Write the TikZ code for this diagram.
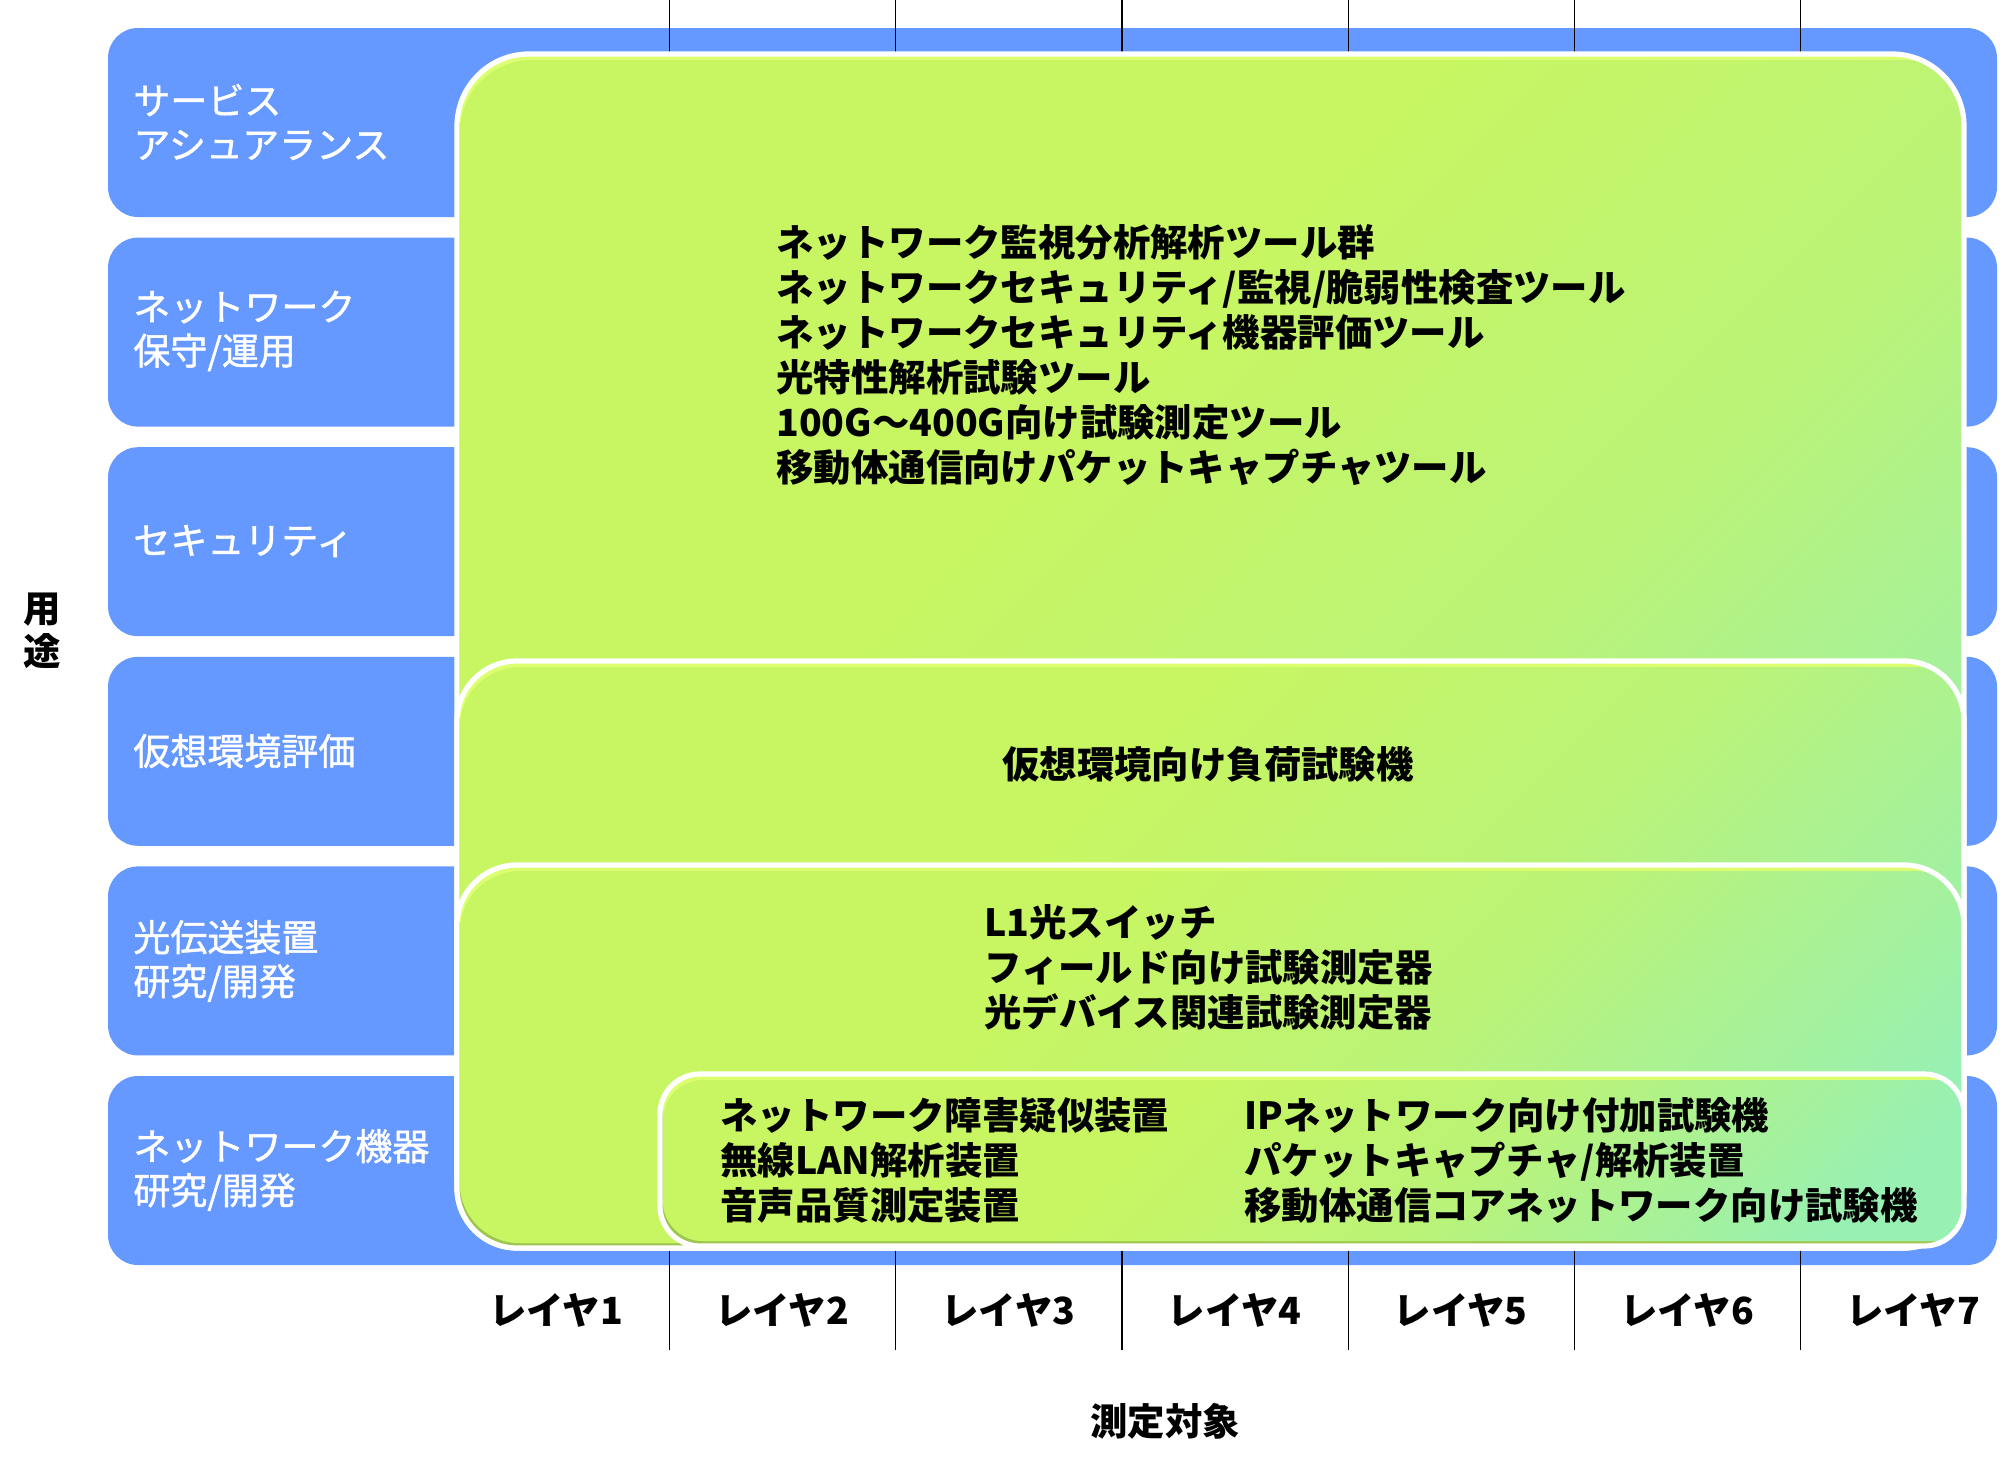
\documentclass[tikz,border=0pt]{standalone}
\usepackage{fontspec}
\newfontfamily\jp{Noto Sans CJK JP}
\newfontfamily\jpw{Noto Sans CJK JP}[FakeBold=1.2]
\definecolor{barblue}{RGB}{102,153,255}
\definecolor{gA}{RGB}{200,246,98}
\definecolor{gB}{RGB}{186,243,120}
\definecolor{gC}{RGB}{152,240,178}
\definecolor{gDark}{RGB}{158,198,78}
\definecolor{gLight}{RGB}{220,255,112}
\pgfdeclareverticalshading{greensh}{100bp}{color(0bp)=(gC); color(22bp)=(gC); color(42bp)=(gB); color(60bp)=(gA); color(100bp)=(gA)}
\newcommand\greenbox[5]{%
  \begin{scope}
    \clip[rounded corners=#5] (#1,#2) rectangle (#3,#4);
    \fill[gDark] (#1-5,#2-5) rectangle (#3+5,#4+5);
    \fill[gLight, rounded corners=#5] (#1+3,#2-12) rectangle (#3+12,#4-5);
    \shade[shading=greensh, shading angle=45, rounded corners=#5] (#1+3,#2+6) rectangle (#3+12,#4-5);
  \end{scope}
  \draw[white, line width=2.6pt, rounded corners=#5] (#1,#2) rectangle (#3,#4);
}
\begin{document}
\begin{tikzpicture}[x=0.5pt,y=-0.5pt,
  bar/.style={fill=barblue, rounded corners=15pt},
  lbl/.style={text=white, anchor=west, align=left, inner sep=0pt,
    font=\jpw\fontsize{18.5pt}{22pt}\selectfont},
  txt/.style={text=black, inner sep=0pt, align=left,
    font=\jp\bfseries\fontsize{18.7pt}{22.5pt}\selectfont},
  vline/.style={line width=0.6pt, black},
]
\useasboundingbox[fill=white] (0,0) rectangle (2004,1467);

% blue rows
\foreach \i in {0,...,5}{
  \fill[bar] (108,{28+209.6*\i}) rectangle (1997,{217+209.6*\i});
}

% layer grid lines
\foreach \i in {1,...,6}{
  \coordinate (top\i) at ({443.4+226.2*\i},0);
  \coordinate (bot\i) at ({443.4+226.2*\i},1350);
  \draw[vline] (top\i) -- (bot\i);
}

% green boxes
\greenbox{457}{54}{1964}{1248}{36pt}
\greenbox{457}{661}{1964}{1248}{30pt}
\greenbox{457}{865}{1964}{1248}{30pt}
\greenbox{660}{1074}{1964}{1246}{20pt}

% box texts
\node[txt, anchor=west] (t1) at (776,355.5) {ネットワーク監視分析解析ツール群\\ネットワークセキュリティ/監視/脆弱性検査ツール\\ネットワークセキュリティ機器評価ツール\\光特性解析試験ツール\\100G～400G向け試験測定ツール\\移動体通信向けパケットキャプチャツール};
\node[txt] (t2) at (1208,764) {仮想環境向け負荷試験機};
\node[txt, anchor=west] (t3) at (984,967) {L1光スイッチ\\フィールド向け試験測定器\\光デバイス関連試験測定器};
\node[txt, anchor=west] (t4a) at (720,1160) {ネットワーク障害疑似装置\\無線LAN解析装置\\音声品質測定装置};
\node[txt, anchor=west] (t4b) at (1244,1160) {IPネットワーク向け付加試験機\\パケットキャプチャ/解析装置\\移動体通信コアネットワーク向け試験機};

% row labels
\node[lbl] (l1) at (133,122) {サービス\\アシュアランス};
\node[lbl] (l2) at (133,331) {ネットワーク\\保守/運用};
\node[lbl] (l3) at (133,541) {セキュリティ};
\node[lbl] (l4) at (133,751) {仮想環境評価};
\node[lbl] (l5) at (133,961) {光伝送装置\\研究/開発};
\node[lbl] (l6) at (133,1170) {ネットワーク機器\\研究/開発};

% layer labels
\foreach \i in {1,...,7}{
  \node[txt] (L\i) at ({556+226.2*(\i-1)},1310) {レイヤ\i};
}

% axis titles
\node[txt, align=center, font=\jp\bfseries\fontsize{18.7pt}{21.5pt}\selectfont] (use) at (42,631) {用\\途};
\node[txt] (meas) at (1165,1421) {測定対象};
\end{tikzpicture}
\end{document}
